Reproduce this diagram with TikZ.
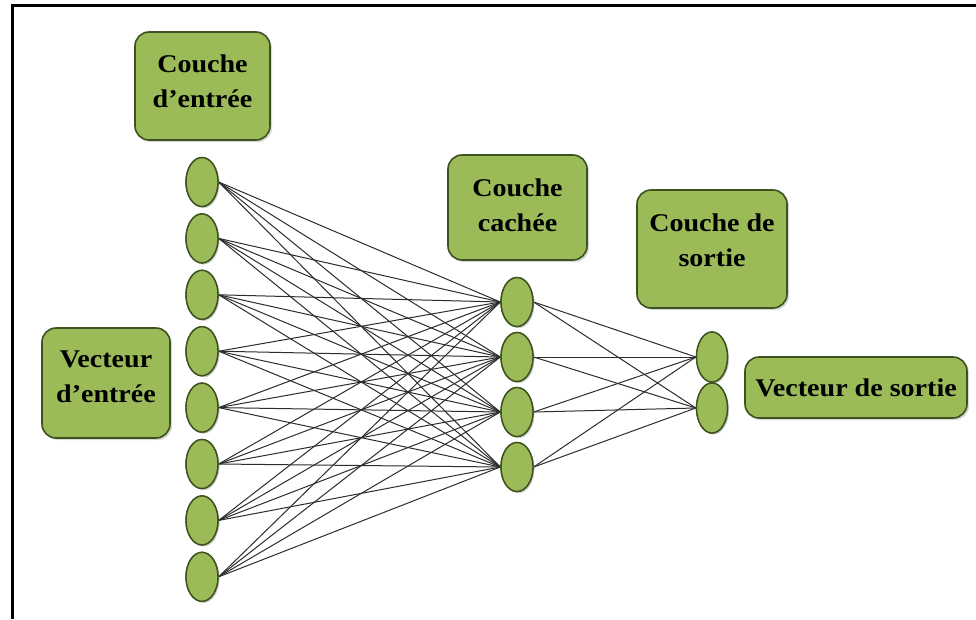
\documentclass[tikz,border=0pt]{standalone}
\usepackage{fontspec}
\setmainfont[FakeStretch=1.1]{Liberation Serif}
\usetikzlibrary{shapes.geometric,shadows}
\definecolor{leaf}{RGB}{155,187,89}
\definecolor{leafedge}{RGB}{62,82,30}
\definecolor{wire}{RGB}{45,45,45}
\tikzset{
  neuron/.style={ellipse, draw=leafedge, line width=1.4pt, fill=leaf,
    minimum width=32pt, minimum height=49pt, inner sep=0pt,
    drop shadow={shadow xshift=1.5pt, shadow yshift=-1.5pt, opacity=0.25}},
  label box/.style={draw=leafedge, line width=1.6pt, fill=leaf,
    rounded corners=14pt, inner sep=0pt, align=center,
    font=\bfseries\fontsize{25.5}{35}\selectfont, text=black,
    drop shadow={shadow xshift=2pt, shadow yshift=-2pt, opacity=0.3}},
  link/.style={draw=wire, line width=1pt}
}
\begin{document}
\begin{tikzpicture}[x=1pt,y=-1pt]
\useasboundingbox (0,0) rectangle (976,619);
\fill[white] (0,0) rectangle (976,619);
% frame edges
\draw[line width=3pt] (976,5) -- (12,5) -- (12,619);

% label boxes
\node[label box, minimum width=135pt, minimum height=108pt, text depth=10pt] (lblin) at (202.5,86) {Couche\\d’entrée};
\node[label box, minimum width=128pt, minimum height=110pt, text depth=12pt] (vecin) at (106,383) {Vecteur\\d’entrée};
\node[label box, minimum width=139pt, minimum height=105pt, text depth=4pt] (lblhid) at (517.5,207.5) {Couche\\cachée};
\node[label box, minimum width=150pt, minimum height=118pt, text depth=18pt] (lblout) at (712,249) {Couche de\\sortie};
\node[label box, minimum width=222pt, minimum height=61pt] (vecout) at (856,387.5) {Vecteur de sortie};

% input layer
\foreach \i in {1,...,8}
  \node[neuron] (in\i) at (202, {182+(\i-1)*56.4}) {};
% hidden layer
\foreach \j in {1,...,4}
  \node[neuron] (hid\j) at (517, {302+(\j-1)*55}) {};
% output layer
\node[neuron, minimum width=31pt, minimum height=50pt] (out1) at (712,357) {};
\node[neuron, minimum width=31pt, minimum height=50pt] (out2) at (712,408) {};

% connections, every unit to every unit of the next layer
\foreach \i in {1,...,8}
  \foreach \j in {1,...,4}
    \draw[link] (in\i.east) -- (hid\j.west);
\foreach \j in {1,...,4}
  \foreach \k in {1,2}
    \draw[link] (hid\j.east) -- (out\k.west);

% redraw neurons above the wires
\foreach \i in {1,...,8}
  \node[neuron] at (in\i) {};
\foreach \j in {1,...,4}
  \node[neuron] at (hid\j) {};
\node[neuron, minimum width=31pt, minimum height=50pt] at (out1) {};
\node[neuron, minimum width=31pt, minimum height=50pt] at (out2) {};
\end{tikzpicture}
\end{document}
